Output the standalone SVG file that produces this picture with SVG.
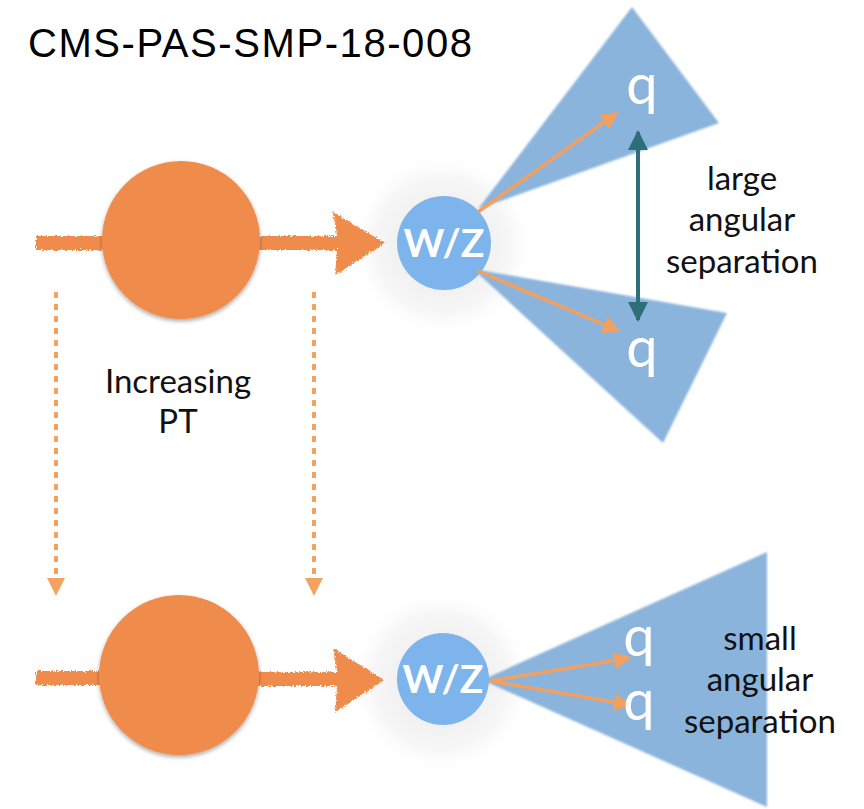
<svg xmlns="http://www.w3.org/2000/svg" width="864" height="809" viewBox="0 0 864 809">
<defs>
<style>
.lbl{font-family:Lato,"Open Sans","Liberation Sans",sans-serif;fill:#111;font-size:33px;text-anchor:middle}
.q{font-family:Lato,"Liberation Sans",sans-serif;fill:#fff;font-size:56px;text-anchor:middle}
.wz{font-family:Lato,"Liberation Sans",sans-serif;fill:#fff;font-size:39px;font-weight:bold;text-anchor:middle}
.cone{fill:#8AB4DC;filter:url(#soft)}
.big{fill:#F08C4C;filter:url(#shadow)}
.shaft{fill:#F08C4C;filter:url(#rough)}
.thin{stroke:#F2A060;stroke-width:3.5;fill:none}
.dot{stroke:#F4A260;stroke-width:4;stroke-dasharray:6 6;fill:none}
.wzc{fill:#7DB4EB}
</style>
<radialGradient id="glow">
<stop offset="0.45" stop-color="#f0f0f0"/>
<stop offset="0.75" stop-color="#f7f7f7"/>
<stop offset="1" stop-color="#ffffff" stop-opacity="0"/>
</radialGradient>
<filter id="soft" x="-10%" y="-10%" width="120%" height="120%"><feGaussianBlur stdDeviation="1.2"/></filter>
<filter id="shadow" x="-20%" y="-20%" width="140%" height="140%"><feDropShadow dx="0" dy="2" stdDeviation="2" flood-color="#000" flood-opacity="0.35"/></filter>
<filter id="rough" x="-10%" y="-30%" width="120%" height="160%">
<feTurbulence type="fractalNoise" baseFrequency="0.6" numOctaves="2" seed="3" result="n"/>
<feDisplacementMap in="SourceGraphic" in2="n" scale="5" xChannelSelector="R" yChannelSelector="G"/>
</filter>
<marker id="oh" viewBox="0 0 10 10" refX="9" refY="5" markerWidth="5" markerHeight="5" orient="auto"><path d="M0,0 L10,5 L0,10 z" fill="#F2A060"/></marker>
<marker id="th" viewBox="0 0 10 10" refX="9" refY="5" markerWidth="5" markerHeight="5" orient="auto-start-reverse"><path d="M0,0 L10,5 L0,10 z" fill="#2E6E78"/></marker>
</defs>
<rect width="864" height="809" fill="#fff"/>
<text x="28" y="57" font-family="'Liberation Sans',Arial,sans-serif" font-size="40" textLength="444" fill="#000">CMS-PAS-SMP-18-008</text>

<g id="glow-top"><circle cx="442" cy="245" r="92" fill="url(#glow)"/></g>
<g id="glow-bot"><circle cx="441" cy="681" r="92" fill="url(#glow)"/></g>

<g id="connectors">
<path class="shaft" d="M36,236 L110,236 L110,250 L36,250 Z"/>
<path class="shaft" d="M255,236 L337,236 L333,212 L385,243 L335,275 L337,250 L255,250 Z"/>
<path class="shaft" d="M36,671 L110,671 L110,685 L36,685 Z"/>
<path class="shaft" d="M255,672 L337,672 L333,648 L384,680 L335,712 L337,686 L255,686 Z"/>
<line class="dot" x1="56" y1="292" x2="56" y2="580"/>
<line class="dot" x1="314" y1="292" x2="314" y2="580"/>
<path d="M47,578 L65,578 L56,596 Z" fill="#F4A260"/>
<path d="M305,578 L323,578 L314,596 Z" fill="#F4A260"/>
</g>

<g id="cone-top-upper"><polygon class="cone" points="478,209 632,7 719,123"/></g>
<g id="cone-top-lower"><polygon class="cone" points="473,269 727,313 663,443"/></g>
<g id="cone-bottom"><polygon class="cone" points="482,680 767,552 767,807"/></g>

<g id="circle-top"><circle class="big" cx="181" cy="240" r="79"/></g>
<g id="circle-bot"><circle class="big" cx="179" cy="675" r="80"/></g>

<g id="wz-top"><circle class="wzc" cx="444" cy="243" r="47"/><text class="wz" x="444" y="257">W/Z</text></g>
<g id="wz-bot"><circle class="wzc" cx="443" cy="679" r="46"/><text class="wz" x="443" y="693">W/Z</text></g>

<g id="decay-arrows">
<line class="thin" x1="478" y1="212" x2="617" y2="113" marker-end="url(#oh)"/>
<line class="thin" x1="478" y1="271" x2="619" y2="331" marker-end="url(#oh)"/>
<line class="thin" x1="490" y1="681" x2="630" y2="658" marker-end="url(#oh)"/>
<line class="thin" x1="490" y1="681" x2="630" y2="705" marker-end="url(#oh)"/>
<line x1="638" y1="132" x2="638" y2="320" stroke="#2E6E78" stroke-width="4" marker-start="url(#th)" marker-end="url(#th)"/>
</g>

<g id="q-labels">
<text class="q" x="642" y="104">q</text>
<text class="q" x="642" y="367">q</text>
<text class="q" x="639" y="656">q</text>
<text class="q" x="639" y="720">q</text>
</g>

<g id="texts">
<text class="lbl" x="742" y="190">large</text>
<text class="lbl" x="742" y="231">angular</text>
<text class="lbl" x="742" y="273">separation</text>
<text class="lbl" x="760" y="650">small</text>
<text class="lbl" x="760" y="691">angular</text>
<text class="lbl" x="760" y="733">separation</text>
<text class="lbl" x="178" y="393">Increasing</text>
<text class="lbl" x="178" y="433">PT</text>
</g>
</svg>
